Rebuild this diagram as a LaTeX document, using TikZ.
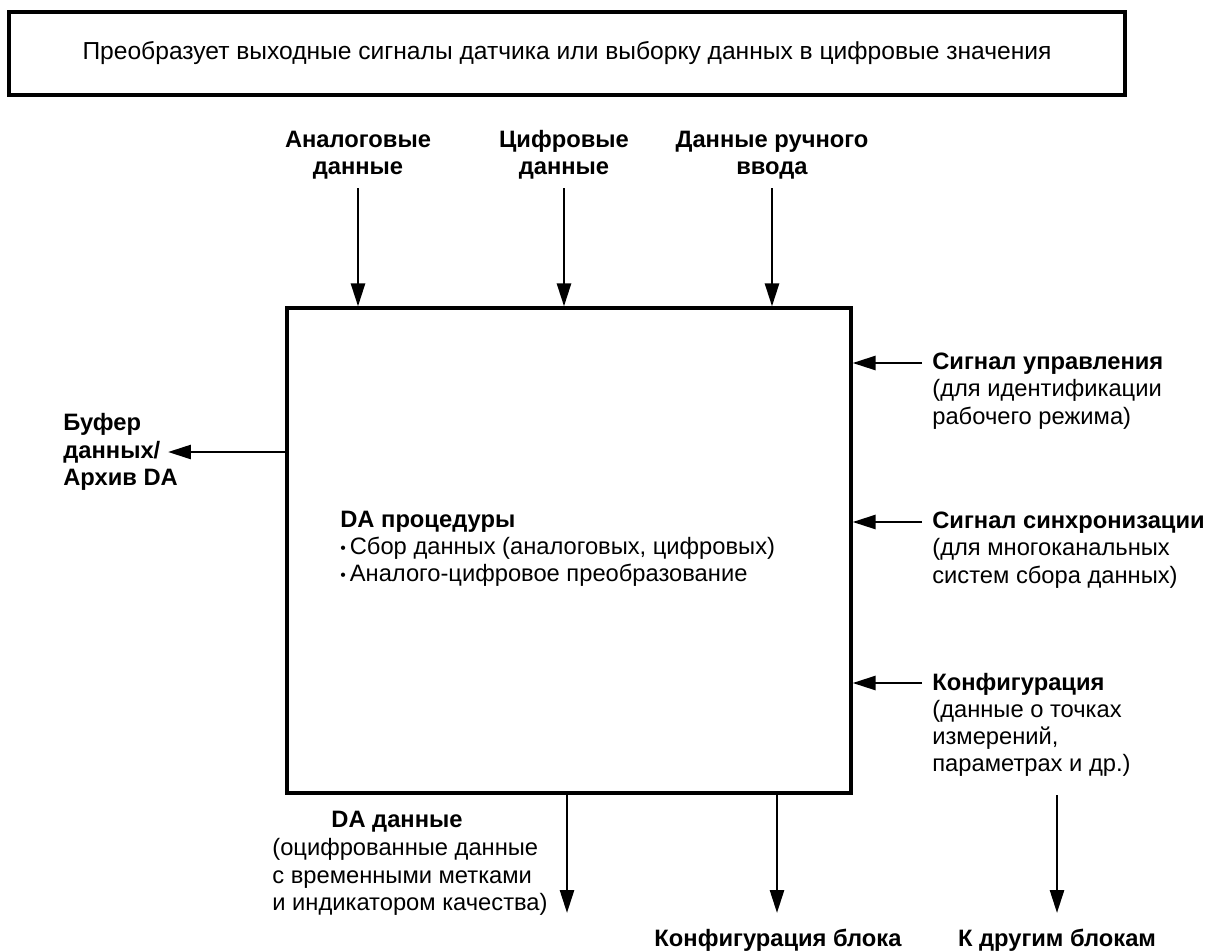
\documentclass[tikz,border=0pt]{standalone}
\usepackage{fontspec}
\setmainfont{Liberation Sans}
\usetikzlibrary{arrows.meta}
\newcommand{\txtsize}{\fontsize{13.5}{15.5}\selectfont}
\newcommand{\dabullet}{{\fontsize{9}{9}\selectfont\raisebox{0.15ex}{•}}\,}
\tikzset{
	box/.style={draw, line width=1.9pt, inner sep=0pt},
	flow/.style={line width=1.5pt, -{Triangle[length=4.6mm, width=2.8mm]}},
	lbl/.style={font=\txtsize, align=center, inner sep=0pt},
	lblb/.style={font=\txtsize\bfseries, align=center, inner sep=0pt},
	lbll/.style={font=\txtsize, align=left, inner sep=0pt, anchor=west}
}

\begin{document}
\begin{tikzpicture}[x=0.02cm, y=-0.02cm]
			%%%%% START %%%%%
			\useasboundingbox (0, 0) rectangle (1214, 951);
			
			\node[box, lbl, font=\fontsize{14}{16}\selectfont, minimum width=22.32cm, minimum height=1.66cm] (goal) at (567, 53.5) {Преобразует выходные сигналы датчика или выборку данных в цифровые значения};
			
			\node[box, minimum width=11.28cm, minimum height=9.70cm] (da) at (569, 550.5) {};
			\node[lbll] (proc) at (340, 549) {\textbf{DA процедуры}\\\dabullet Сбор данных (аналоговых, цифровых)\\\dabullet Аналого-цифровое преобразование};
			
			% inputs from above
			\node[lblb] (ana) at (358, 155) {Аналоговые\\данные};
			\node[lblb] (cif) at (564, 155) {Цифровые\\данные};
			\node[lblb] (man) at (772, 155) {Данные ручного\\ввода};
			\coordinate (ana-in) at (358, 188);
			\coordinate (cif-in) at (564, 188);
			\coordinate (man-in) at (772, 188);
			\draw[flow] (ana-in) -- (ana-in |- da.north);
			\draw[flow] (cif-in) -- (cif-in |- da.north);
			\draw[flow] (man-in) -- (man-in |- da.north);
			
			% output to the left
			\node[lbll, font=\txtsize\bfseries] (buf) at (63, 452) {Буфер\\данных/\\Архив DA};
			\coordinate (buf-out) at (168, 452);
			\draw[flow] (buf-out -| da.west) -- (buf-out);
			
			% inputs from the right
			\node[lbll] (ctl) at (932, 391) {\textbf{Сигнал управления}\\(для идентификации\\рабочего режима)};
			\node[lbll] (syn) at (932, 550) {\textbf{Сигнал синхронизации}\\(для многоканальных\\систем сбора данных)};
			\node[lbll] (cfg) at (932, 725) {\textbf{Конфигурация}\\(данные о точках\\измерений,\\параметрах и др.)};
			\coordinate (ctl-in) at (922, 363);
			\coordinate (syn-in) at (922, 522);
			\coordinate (cfg-in) at (922, 683);
			\draw[flow] (ctl-in) -- (ctl-in -| da.east);
			\draw[flow] (syn-in) -- (syn-in -| da.east);
			\draw[flow] (cfg-in) -- (cfg-in -| da.east);
			
			% outputs below
			\node[lblb] (dad) at (397, 822) {DA данные};
			\node[lbll] (dad-note) at (272, 877) {(оцифрованные данные\\с временными метками\\и индикатором качества)};
			\node[lblb] (blk) at (778, 940) {Конфигурация блока};
			\node[lblb] (oth) at (1057, 940) {К другим блокам};
			\coordinate (dad-out) at (567, 913);
			\coordinate (blk-out) at (777, 913);
			\coordinate (oth-top) at (1057, 795);
			\coordinate (oth-out) at (1057, 913);
			\draw[flow] (dad-out |- da.south) -- (dad-out);
			\draw[flow] (blk-out |- da.south) -- (blk-out);
			\draw[flow] (oth-top) -- (oth-out);
			
			%%%%% END %%%%%
\end{tikzpicture}
\end{document}
